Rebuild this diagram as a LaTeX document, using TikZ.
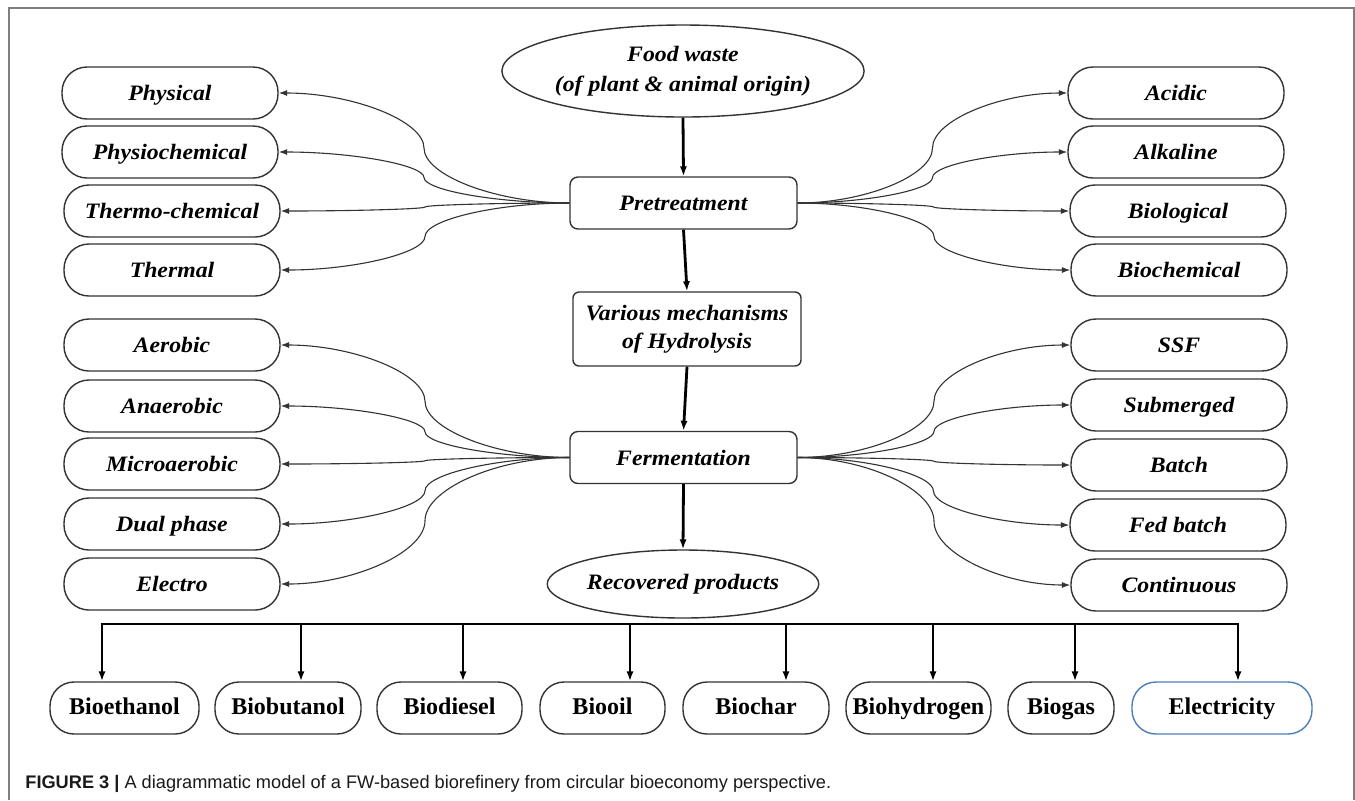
\documentclass[tikz,border=0pt]{standalone}
\usepackage{fontspec}
\setmainfont{Liberation Serif}
\newfontfamily\nodefont[FakeStretch=1.08]{Liberation Serif}
\newfontfamily\capfont{Liberation Sans}
\usetikzlibrary{arrows.meta,shapes.geometric,calc}
\definecolor{edgec}{HTML}{333333}
\definecolor{elec}{HTML}{4A7EBB}
\definecolor{framec}{HTML}{7F7F7F}
\definecolor{capc}{HTML}{1A1A1A}
\begin{document}
\begin{tikzpicture}[x=0.5pt,y=-0.5pt,
  itf/.style={font=\nodefont\bfseries\itshape\fontsize{11}{15}\selectfont},
  side/.style={itf, draw=edgec, line width=0.7pt, rounded corners=12.5pt,
    minimum width=108pt, minimum height=26pt, inner sep=0pt, text height=9pt, text depth=2pt},
  ctr/.style={itf, draw=edgec, line width=0.7pt, rounded corners=4pt,
    minimum width=113.5pt, minimum height=26pt, inner sep=0pt, align=center},
  oval/.style={itf, draw=edgec, line width=0.7pt, ellipse, inner sep=0pt, align=center},
  bot/.style={draw=edgec, line width=0.7pt, rounded corners=12pt, minimum height=26pt,
    inner sep=0pt, minimum width={#1*0.5pt}, text height=9pt, text depth=3pt,
    font=\bfseries\fontsize{12}{14}\selectfont},
  main/.style={draw=black, line width=1.4pt, -{Latex[length=5pt,width=3.6pt]}},
  bus/.style={draw=black, line width=1.2pt},
  drop/.style={draw=black, line width=1.2pt, -{Latex[length=5pt,width=3.6pt]}},
  fan/.style={draw=edgec, line width=0.55pt, -{Latex[length=4.2pt,width=3pt]},
    to path={let \p1=(\tikztostart), \p2=(\tikztotarget),
      \p3=($(\tikztostart)!0.5!(\tikztotarget)$),
      \p4=($(\tikztostart)!0.25!(\tikztotarget)$),
      \p5=($(\tikztostart)!0.75!(\tikztotarget)$) in
      .. controls (\x4,\y1) and (\x3,\y4) .. (\p3)
      .. controls (\x3,\y5) and (\x5,\y2) .. (\p2) \tikztonodes}}
]
\useasboundingbox (0,0) rectangle (1355,800);
\fill[white] (0,0) rectangle (1355,800);
% frame
\draw[framec, line width=0.7pt] (9,800) -- (9,8) -- (1354,8) -- (1354,800);

% centre column
\node[oval, minimum width=153.5pt, minimum height=46pt] (fw) at (683,71)
  {Food waste\\(of plant \& animal origin)};
\node[ctr] (pre) at (683.5,203) {Pretreatment};
\node[ctr, rounded corners=3pt, minimum width=114pt, minimum height=37pt,
  font=\nodefont\bfseries\itshape\fontsize{11}{14}\selectfont] (var) at (687,329)
  {Various mechanisms\\of Hydrolysis};
\node[ctr] (fer) at (683.5,457.5) {Fermentation};
\node[oval, minimum width=130pt, minimum height=34pt] (rec) at (683,584) {Recovered products};

\draw[main] (fw.south) -- (pre.north);
\draw[main] (pre.south) -- (var.north);
\draw[main] (var.south) -- (fer.north);
\draw[main] (fer.south) -- (rec.north);

% left pretreatment options
\node[side] (phys) at (170,93) {Physical};
\node[side] (physc) at (170,152) {Physiochemical};
\node[side] (thch) at (172,211) {Thermo-chemical};
\node[side] (therm) at (172,270) {Thermal};
% right pretreatment options
\node[side] (acid) at (1176,93) {Acidic};
\node[side] (alk) at (1176,152) {Alkaline};
\node[side] (biol) at (1178,211) {Biological};
\node[side] (bioc) at (1179,270) {Biochemical};
% left fermentation modes
\node[side] (aer) at (172,345) {Aerobic};
\node[side] (anaer) at (172,406) {Anaerobic};
\node[side] (micro) at (172,464) {Microaerobic};
\node[side] (dual) at (172,524) {Dual phase};
\node[side] (elec) at (172,584) {Electro};
% right fermentation modes
\node[side] (ssf) at (1179,345) {SSF};
\node[side] (subm) at (1179,405) {Submerged};
\node[side] (batch) at (1179,465) {Batch};
\node[side] (fed) at (1178,525) {Fed batch};
\node[side] (cont) at (1179,585) {Continuous};

\foreach \nd in {phys,physc,thch,therm} \draw[fan] (pre.west) to (\nd.east);
\foreach \nd in {acid,alk,biol,bioc} \draw[fan] (pre.east) to (\nd.west);
\foreach \nd in {aer,anaer,micro,dual,elec} \draw[fan] (fer.west) to (\nd.east);
\foreach \nd in {ssf,subm,batch,fed,cont} \draw[fan] (fer.east) to (\nd.west);

% products
\node[bot=149] (p1) at (124.5,708) {Bioethanol};
\node[bot=146] (p2) at (288,708) {Biobutanol};
\node[bot=145] (p3) at (449.5,708) {Biodiesel};
\node[bot=125] (p4) at (602.5,708) {Biooil};
\node[bot=146] (p5) at (756,708) {Biochar};
\node[bot=145] (p6) at (918.5,708) {Biohydrogen};
\node[bot=106] (p7) at (1061,708) {Biogas};
\node[bot=180, draw=elec] (p8) at (1222,708) {Electricity};

\coordinate (b1) at (102,624);
\coordinate (b2) at (301,624);
\coordinate (b3) at (463,624);
\coordinate (b4) at (630,624);
\coordinate (b5) at (786,624);
\coordinate (b6) at (933,624);
\coordinate (b7) at (1075,624);
\coordinate (b8) at (1238,624);
\draw[bus] ([xshift=-0.6pt]b1) -- ([xshift=0.6pt]b8);
\foreach \i in {1,...,8} \draw[drop] (b\i) -- (b\i |- p\i.north);

% caption
\node[anchor=base west, inner sep=0pt, text=capc, font=\capfont\fontsize{9.1}{11}\selectfont] (cap) at (25,788)
  {\textbf{FIGURE 3 |} A diagrammatic model of a FW-based biorefinery from circular bioeconomy perspective.};
\end{tikzpicture}
\end{document}
